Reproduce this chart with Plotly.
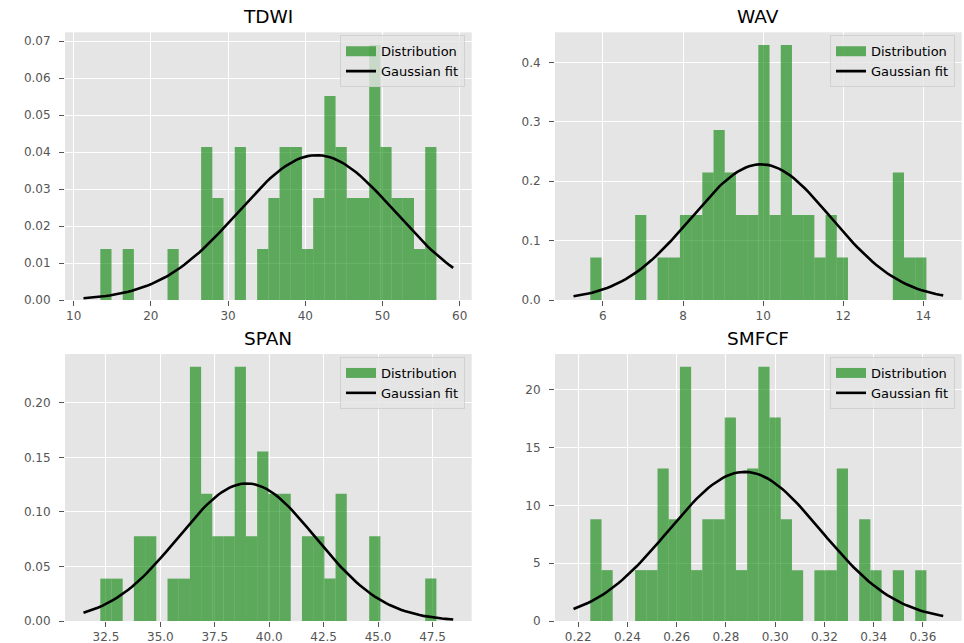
import numpy as np
import plotly.graph_objects as go

# Per-parameter histogram counts (30 equal-width bins) and the bin span
titles = ["TDWI", "WAV", "SPAN", "SMFCF"]

tdwi_counts = [1, 0, 1, 0, 0, 0, 1, 0, 0, 3, 2, 0, 3, 0, 1, 2, 3, 3, 1, 2, 4, 3, 2, 2, 5, 3, 2, 2, 1, 3]
wav_counts = [1, 0, 0, 0, 2, 0, 1, 1, 2, 2, 3, 4, 3, 2, 2, 6, 2, 6, 2, 2, 1, 2, 1, 0, 0, 0, 0, 3, 1, 1]
span_counts = [1, 1, 0, 2, 2, 0, 1, 1, 6, 3, 2, 2, 6, 2, 4, 3, 3, 0, 2, 2, 1, 3, 0, 0, 2, 0, 0, 0, 0, 1]
smfcf_counts = [2, 1, 0, 0, 1, 1, 3, 2, 5, 1, 2, 2, 4, 1, 3, 5, 4, 2, 1, 0, 1, 1, 3, 0, 2, 1, 0, 1, 0, 1]

tdwi_span = (13.45, 56.98)
wav_span = (5.685, 14.076)
span_span = (32.24, 47.68)
smfcf_span = (0.2249, 0.3614)

# Gaussian fit parameters (mean, standard deviation)
tdwi_fit = (41.47, 10.19)
wav_fit = (9.95, 1.747)
span_fit = (38.97, 3.163)
smfcf_fit = (0.2876, 0.03095)

# Tick settings: (x dtick, x format, y dtick, y format)
tdwi_ticks = (10, "d", 0.01, ".2f")
wav_ticks = (2, "d", 0.1, ".1f")
span_ticks = (2.5, ".1f", 0.05, ".2f")
smfcf_ticks = (0.02, ".2f", 5, "d")

panels = [
    (tdwi_counts, tdwi_span, tdwi_fit, tdwi_ticks),
    (wav_counts, wav_span, wav_fit, wav_ticks),
    (span_counts, span_span, span_fit, span_ticks),
    (smfcf_counts, smfcf_span, smfcf_fit, smfcf_ticks),
]

W, H = 964, 643
col_px = [(65, 471.7), (555, 961.7)]
row_px = [(32.3, 300.0), (354.0, 621.0)]
title_px = [16.7, 338.3]

FONT = "DejaVu Sans"
BAR_COLOR = "rgba(0,128,0,0.6)"
TICK_COLOR = "#555555"

fig = go.Figure()
layout = dict(
    width=W, height=H,
    margin=dict(l=0, r=0, t=0, b=0, pad=0, autoexpand=False),
    paper_bgcolor="white",
    plot_bgcolor="#E5E5E5",
    font=dict(family=FONT, size=13, color="black"),
    showlegend=True,
    barmode="overlay",
    annotations=[],
)

for i, (counts, (lo, hi), (mu, sd), (xdt, xfmt, ydt, yfmt)) in enumerate(panels):
    r, c = divmod(i, 2)
    sfx = "" if i == 0 else str(i + 1)
    xa, ya = "x" + sfx, "y" + sfx
    leg = "legend" + sfx

    counts = np.asarray(counts, dtype=float)
    nb = len(counts)
    bw = (hi - lo) / nb
    edges = lo + bw * np.arange(nb + 1)
    centers = 0.5 * (edges[:-1] + edges[1:])
    density = counts / (counts.sum() * bw)

    span = hi - lo
    xs = np.linspace(lo - 0.05 * span, hi + 0.05 * span, 100)
    pdf = np.exp(-0.5 * ((xs - mu) / sd) ** 2) / (sd * np.sqrt(2 * np.pi))

    fig.add_trace(go.Bar(
        x=centers, y=density, width=bw,
        marker=dict(color=BAR_COLOR, line=dict(width=0)),
        xaxis=xa, yaxis=ya, showlegend=False, name="Distribution",
    ))
    # legend swatch for the histogram
    fig.add_trace(go.Scatter(
        x=[None], y=[None], mode="lines",
        line=dict(color=BAR_COLOR, width=10),
        name="Distribution", xaxis=xa, yaxis=ya, legend=leg,
    ))
    fig.add_trace(go.Scatter(
        x=xs, y=pdf, mode="lines",
        line=dict(color="black", width=2.6),
        name="Gaussian fit", xaxis=xa, yaxis=ya, legend=leg,
    ))

    x0, x1 = col_px[c]
    y0, y1 = row_px[r]
    axis_common = dict(
        showgrid=True, gridcolor="white", gridwidth=1.1,
        zeroline=False, showline=False, automargin=False,
        ticks="outside", ticklen=5, tickwidth=1, tickcolor=TICK_COLOR,
        tickfont=dict(family=FONT, size=12, color=TICK_COLOR),
    )
    layout["xaxis" + sfx] = dict(
        domain=[x0 / W, x1 / W], anchor=ya,
        range=[lo - 0.105 * span, hi + 0.105 * span],
        dtick=xdt, tick0=0, tickformat=xfmt, ticklabelstandoff=0,
        **axis_common,
    )
    layout["yaxis" + sfx] = dict(
        domain=[1 - y1 / H, 1 - y0 / H], anchor=xa,
        range=[0, 1.05 * density.max()],
        dtick=ydt, tick0=0, tickformat=yfmt, ticklabelstandoff=6,
        **axis_common,
    )
    layout[leg] = dict(
        x=(x1 - 6.7) / W, y=1 - (y0 + 3) / H,
        xanchor="right", yanchor="top",
        bgcolor="rgba(229,229,229,0.8)",
        bordercolor="rgba(204,204,204,0.8)", borderwidth=1,
        font=dict(family=FONT, size=13, color="black"),
        tracegroupgap=0,
    )
    layout["annotations"].append(dict(
        text=titles[i], x=(x0 + x1) / 2 / W, y=1 - title_px[r] / H,
        xref="paper", yref="paper", xanchor="center", yanchor="middle",
        showarrow=False, font=dict(family=FONT, size=18.5, color="black"),
    ))

fig.update_layout(**layout)
fig.write_html("out.html")
